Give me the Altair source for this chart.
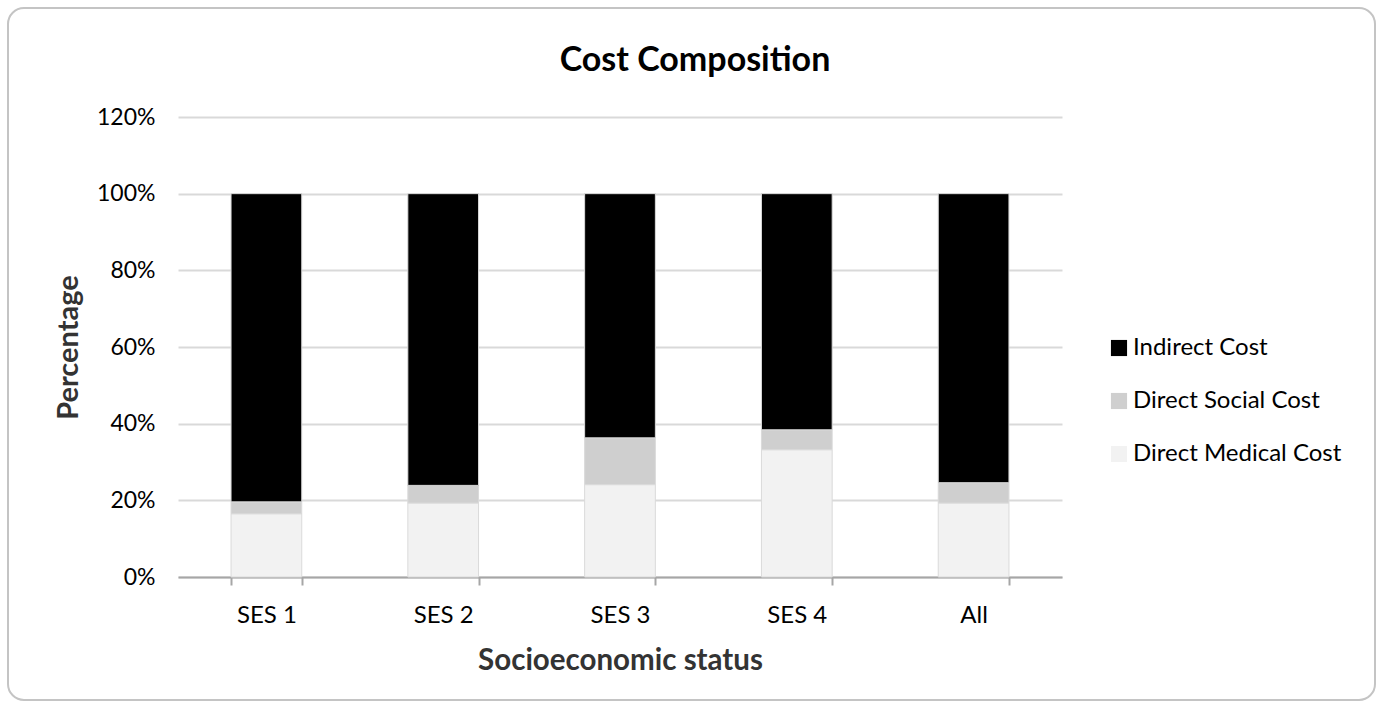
import altair as alt
import pandas as pd

categories = ["SES 1", "SES 2", "SES 3", "SES 4", "All"]
direct_medical = [0.165, 0.193, 0.241, 0.332, 0.193]
direct_social = [0.031, 0.046, 0.122, 0.052, 0.053]
indirect = [0.804, 0.761, 0.637, 0.616, 0.754]

series = ["Indirect Cost", "Direct Social Cost", "Direct Medical Cost"]
colors = ["#000000", "#cfcfcf", "#f2f2f2"]
title_text = "Cost Composition"

rows = []
for i, c in enumerate(categories):
    rows.append({"cat": c, "series": "Direct Medical Cost", "value": direct_medical[i], "ord": 0})
    rows.append({"cat": c, "series": "Direct Social Cost", "value": direct_social[i], "ord": 1})
    rows.append({"cat": c, "series": "Indirect Cost", "value": indirect[i], "ord": 2})
df = pd.DataFrame(rows)

FONT = "Lato"

bars = alt.Chart(df).mark_bar(stroke="#dadada", strokeWidth=1).encode(
    x=alt.X("cat:N", sort=categories, title="Socioeconomic status",
            scale=alt.Scale(paddingInner=0.6, paddingOuter=0.3),
            axis=alt.Axis(labelAngle=0, labelFontSize=24, labelColor="#000000", labelFont=FONT,
                          labelBaseline="alphabetic", labelPadding=37,
                          domainColor="#a6a6a6", domainWidth=2,
                          tickColor="#a6a6a6", tickWidth=2, tickSize=8, tickBand="extent",
                          titleFontSize=29.5, titleFont=FONT, titleFontWeight="bold",
                          titleColor="#333333", titleX=442, titleY=92,
                          titleBaseline="alphabetic", titleAlign="center")),
    y=alt.Y("value:Q", stack="zero", title="Percentage",
            scale=alt.Scale(domain=[0, 1.2], nice=False),
            axis=alt.Axis(format=".0%", values=[0, 0.2, 0.4, 0.6, 0.8, 1.0, 1.2],
                          labelFontSize=23, labelColor="#000000", labelFont=FONT,
                          labelPadding=23, ticks=False, domain=False,
                          gridColor="#d9d9d9", gridWidth=2,
                          titleFontSize=29, titleFont=FONT, titleFontWeight="bold",
                          titleColor="#333333", titleX=-110, titleY=230, titleAngle=-90,
                          titleAlign="center", titleBaseline="middle")),
    color=alt.Color("series:N", scale=alt.Scale(domain=series, range=colors),
                    legend=alt.Legend(title=None, orient="none", legendX=929, legendY=219,
                                      symbolType="square", symbolSize=260,
                                      symbolStrokeWidth=0, labelFontSize=24,
                                      labelFont=FONT, labelColor="#000000", labelLimit=400,
                                      rowPadding=29, labelOffset=2)),
    order=alt.Order("ord:Q"),
)

border = alt.Chart(pd.DataFrame({"a": [0]})).mark_rect(
    fill=None, stroke="#c4c4c4", strokeWidth=2, cornerRadius=16
).encode(
    x=alt.value(-170), x2=alt.value(1197), y=alt.value(-109), y2=alt.value(583)
)

title = alt.Chart(pd.DataFrame({"t": [title_text]})).mark_text(
    font=FONT, fontSize=34, fontWeight="bold", color="#000000",
    align="center", baseline="alphabetic"
).encode(text="t:N", x=alt.value(517), y=alt.value(-46))

chart = alt.layer(border, title, bars).properties(
    width=884, height=460,
    background="white",
    autosize=alt.AutoSizeParams(type="none"),
    padding={"left": 178, "top": 117, "right": 321, "bottom": 132},
).configure_view(strokeWidth=0, stroke="transparent")

chart.save("out.html", embed_options={"renderer": "svg", "actions": False})
